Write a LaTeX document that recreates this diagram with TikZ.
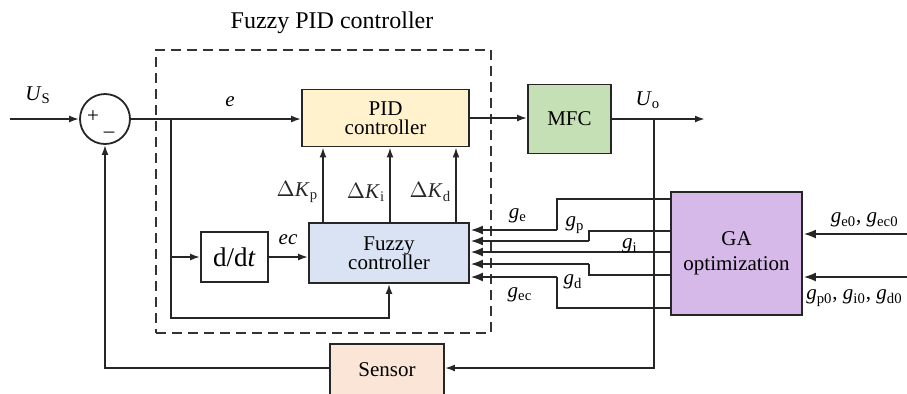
\documentclass[tikz,border=0pt]{standalone}
\usepackage{fontspec}
\setmainfont{Liberation Serif}
\usetikzlibrary{arrows.meta,positioning,calc}
\definecolor{pidc}{HTML}{FFF2CC}
\definecolor{mfcc}{HTML}{C5E0B4}
\definecolor{fuzc}{HTML}{DAE3F3}
\definecolor{gac}{HTML}{D7B9E9}
\definecolor{senc}{HTML}{FBE5D6}
\newcommand{\sg}[2]{\textit{#1}\textsubscript{#2}}

\begin{document}
\begin{tikzpicture}[
				x=0.5pt,y=-0.5pt,
				font=\fontsize{10.5}{11.5}\selectfont,
				blk/.style={draw=black!85,line width=0.9pt,align=center,inner sep=2pt},
				flow/.style={-{Latex[length=5pt,width=3.5pt]},line width=0.9pt,black!85},
				gain/.style={line width=0.6pt,black!85},
				gin/.style={-{Latex[length=6.5pt,width=4.5pt]},line width=1.3pt,black!85},
				lab/.style={inner sep=1pt},
				]
				\useasboundingbox (0,0) rectangle (907,393);
				
				\node[draw=black!80,line width=1.2pt,dash pattern=on 5pt off 3pt,
					minimum width=167.5pt,minimum height=141.5pt,inner sep=0pt] (frame) at (323.5,191.5) {};
				\node[font=\fontsize{12}{12}\selectfont] (title) at (332,23) {Fuzzy PID controller};
				
				\node[circle,draw=black!85,line width=0.9pt,minimum size=25pt,inner sep=0pt] (sum) at (105,119) {};
				\node[lab] (plus) at (93,117) {+};
				\node[lab] (minus) at (109,135) {--};
				
				\node[blk,fill=pidc,minimum width=83.5pt,minimum height=28.5pt] (pid) at (385.5,118) {PID\\[-2pt]controller};
				\node[blk,fill=mfcc,minimum width=41.5pt,minimum height=34.5pt] (mfc) at (569.5,119) {MFC};
				\node[blk,fill=fuzc,minimum width=80pt,minimum height=30pt] (fuzzy) at (389,253) {Fuzzy\\[-2pt]controller};
				\node[blk,fill=white,minimum width=33.5pt,minimum height=25pt,
					font=\fontsize{13.5}{14}\selectfont] (ddt) at (234.5,257) {d/d\textit{t}};
				\node[blk,fill=gac,minimum width=65.5pt,minimum height=61.5pt] (ga) at (736.5,253.5) {GA\\[1pt]optimization};
				\node[blk,fill=senc,minimum width=57pt,minimum height=26pt] (sensor) at (387,370) {Sensor};
				
				% forward path
				\coordinate (in) at (10,119);
				\coordinate (eb) at (171,119);
				\coordinate (ob) at (654,119);
				\coordinate (out) at (705,119);
				\draw[flow] (in) -- (sum.west);
				\draw[flow] (sum.east) -- (sum.east -| pid.west);
				\draw[flow] (pid.east) -- (pid.east -| mfc.west);
				\draw[flow] (mfc.east) -- (out);
				\node[lab] (us) at (38,95) {\textit{U}\textsubscript{S}};
				\node[lab] (e) at (230,102) {\textit{e}};
				\node[lab] (uo) at (648,100) {\sg{U}{o}};
				
				% error branches
				\draw[flow] (eb |- ddt.west) -- (ddt.west);
				\draw[flow] (eb) -- (eb |- 0,318) -- (fuzzy.south |- 0,318) -- (fuzzy.south);
				\draw[flow] (ddt.east) -- (ddt.east -| fuzzy.west);
				\node[lab] (ec) at (288,240) {\textit{ec}};
				
				\foreach \x/\s in {323/p,390/i,456/d}
				{\draw[flow] (fuzzy.north -| \x,0) -- (pid.south -| \x,0)
					node[lab,left,pos=0.4,xshift=-1pt]{$\Delta$\sg{K}{\s}};}
				
				% feedback
				\draw[flow] (ob) -- (ob |- 0,368) -- (sensor.east |- 0,368);
				\draw[flow] (sensor.west |- 0,368) -- (sum.south |- 0,368) -- (sum.south);
				
				% GA tuning
				\foreach \ya/\xs/\yb in {199/557/230,231/589/241,252/671/252,275/589/264,308/557/277}
				{\draw[gain] (ga.west |- 0,\ya) -- (\xs,\ya) -- (\xs,\yb);
					\draw[gin] (\xs,\yb) -- (fuzzy.east |- 0,\yb);}
				\node[lab] (ge) at (518,216) {\sg{g}{e}};
				\node[lab] (gp) at (575,225) {\sg{g}{p}};
				\node[lab] (gi) at (630,246) {\sg{g}{i}};
				\node[lab] (gd) at (573,282) {\sg{g}{d}};
				\node[lab] (gec) at (520,295) {\sg{g}{ec}};
				
				\coordinate (gin1) at (907,234);
				\coordinate (gin2) at (907,277);
				\draw[gin] (gin1) -- (gin1 -| ga.east);
				\draw[gin] (gin2) -- (gin2 -| ga.east);
				\node[lab,anchor=east] (g0a) at (901,220) {\sg{g}{e0},\ \sg{g}{ec0}};
				\node[lab,anchor=east] (g0b) at (905,298) {\sg{g}{p0},\ \sg{g}{i0},\ \sg{g}{d0}};
		\end{tikzpicture}
\end{document}
